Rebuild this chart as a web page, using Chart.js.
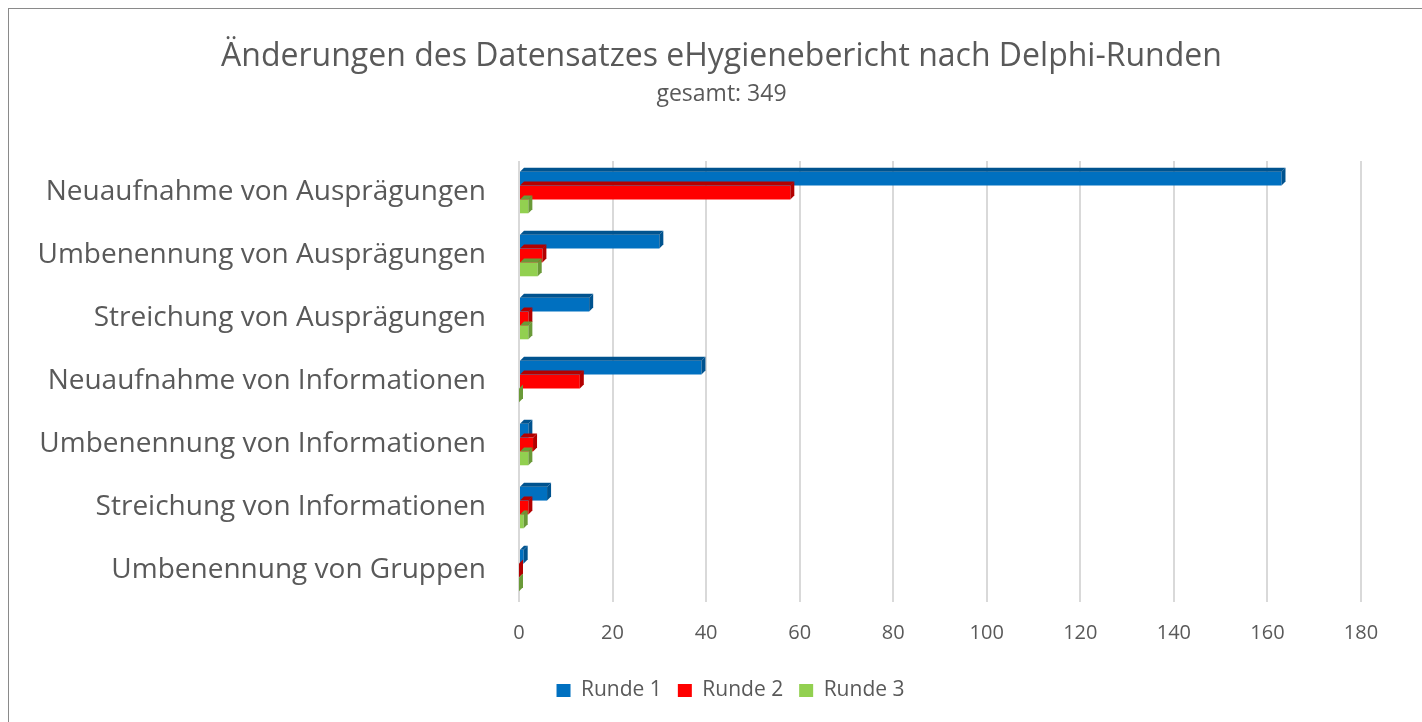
<!DOCTYPE html>
<html>
<head>
<meta charset="utf-8">
<script src="https://cdn.jsdelivr.net/npm/chart.js@4/dist/chart.umd.min.js"></script>
<style>
  body { margin: 0; background: #fff; overflow: hidden; }
  #wrap { position: relative; width: 1422px; height: 722px; }
  #frame { position: absolute; left: 8px; top: 8px; width: 1430px; height: 730px; border: 1.5px solid #8a8a8a; box-sizing: border-box; }
  canvas { position: absolute; left: 0; top: 0; }
</style>
</head>
<body>
<div id="wrap">
  <div id="frame"></div>
  <canvas id="changesChart" width="1422" height="722"></canvas>
</div>
<script>
// Categories (top to bottom)
const categories = [
    'Neuaufnahme von Ausprägungen',
    'Umbenennung von Ausprägungen',
    'Streichung von Ausprägungen',
    'Neuaufnahme von Informationen',
    'Umbenennung von Informationen',
    'Streichung von Informationen',
    'Umbenennung von Gruppen'
];

// Values per Delphi round
const runde1 = [163, 30, 15, 39, 2, 6, 1];
const runde2 = [58, 5, 2, 13, 3, 2, 0];
const runde3 = [2, 4, 2, 0, 2, 1, 0];

const xTicks = [0, 20, 40, 60, 80, 100, 120, 140, 160, 180];

const fontFamily = '"Open Sans", Lato, sans-serif';
const textColor = '#595959';

// Fake 3D look: darker top and right faces on every bar
const bar3d = {
    id: 'bar3d',
    afterDatasetsDraw(chart) {
        const ctx = chart.ctx;
        const d = 4;
        chart.data.datasets.forEach((ds, i) => {
            const meta = chart.getDatasetMeta(i);
            if (meta.hidden) return;
            meta.data.forEach(el => {
                const top = el.y - el.height / 2;
                const bottom = el.y + el.height / 2;
                const left = el.base;
                const right = el.x;
                ctx.save();
                ctx.fillStyle = ds.sideColor;
                // top face
                ctx.beginPath();
                ctx.moveTo(left, top);
                ctx.lineTo(right, top);
                ctx.lineTo(right + d, top - d);
                ctx.lineTo(left + d, top - d);
                ctx.closePath();
                ctx.fill();
                // right face
                ctx.beginPath();
                ctx.moveTo(right, top);
                ctx.lineTo(right + d, top - d);
                ctx.lineTo(right + d, bottom - d);
                ctx.lineTo(right, bottom);
                ctx.closePath();
                ctx.fill();
                ctx.restore();
            });
        });
    }
};

// Title, subtitle and legend sit right of the canvas centre in the original
const shiftBoxes = {
    id: 'shiftBoxes',
    afterLayout(chart) {
        chart.boxes.forEach(box => {
            if (box.position === 'top' && box.options && box.options.text !== undefined) {
                box.left += 31;
                box.right += 31;
            }
        });
        if (chart.legend) {
            chart.legend.left += 40;
            chart.legend.right += 40;
        }
    }
};

new Chart(document.getElementById('changesChart'), {
    type: 'bar',
    data: {
        labels: categories,
        datasets: [
            { label: 'Runde 1', data: runde1, backgroundColor: '#0070C0', sideColor: '#00538f' },
            { label: 'Runde 2', data: runde2, backgroundColor: '#FF0000', sideColor: '#b30000' },
            { label: 'Runde 3', data: runde3, backgroundColor: '#92D050', sideColor: '#6a9a38' }
        ]
    },
    options: {
        indexAxis: 'y',
        responsive: false,
        animation: false,
        layout: { padding: { left: 20, right: 61, top: 38, bottom: 11 } },
        datasets: {
            bar: { categoryPercentage: 0.66, barPercentage: 1.0 }
        },
        plugins: {
            title: {
                display: true,
                text: 'Änderungen des Datensatzes eHygienebericht nach Delphi-Runden',
                color: textColor,
                font: { family: fontFamily, size: 32, weight: 'normal' },
                padding: { top: 0, bottom: 4 }
            },
            subtitle: {
                display: true,
                text: 'gesamt: 349',
                color: textColor,
                font: { family: fontFamily, size: 23, weight: 'normal' },
                padding: { top: 0, bottom: 53 }
            },
            legend: {
                position: 'bottom',
                labels: {
                    color: textColor,
                    font: { family: fontFamily, size: 21 },
                    boxWidth: 14,
                    boxHeight: 13,
                    padding: 16
                }
            },
            tooltip: { enabled: false }
        },
        scales: {
            x: {
                min: 0,
                max: 180,
                afterBuildTicks: scale => { scale.ticks = xTicks.map(v => ({ value: v })); },
                ticks: {
                    color: textColor,
                    font: { family: fontFamily, size: 20 },
                    padding: 19
                },
                grid: { color: '#d9d9d9', lineWidth: 2, drawTicks: false },
                border: { display: false }
            },
            y: {
                afterFit: scale => { scale.width = 499; },
                ticks: {
                    color: textColor,
                    font: { family: fontFamily, size: 28 },
                    padding: 25
                },
                grid: { display: false },
                border: { display: false }
            }
        }
    },
    plugins: [bar3d, shiftBoxes]
});
</script>
</body>
</html>
